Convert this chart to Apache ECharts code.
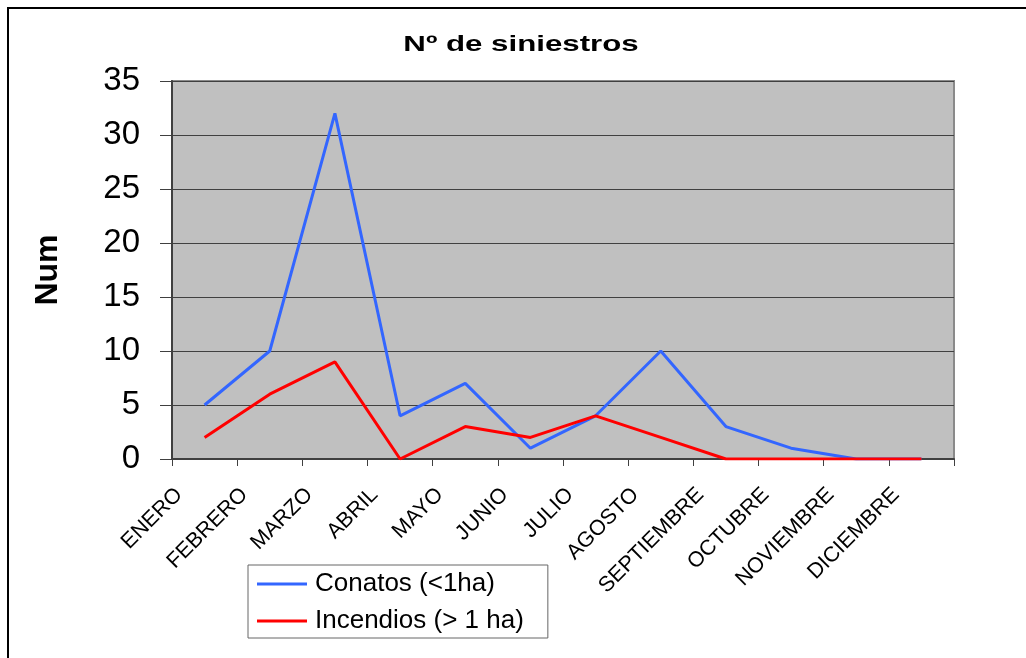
<!DOCTYPE html>
<html>
<head>
<meta charset="utf-8">
<script src="https://cdn.jsdelivr.net/npm/echarts@6/dist/echarts.min.js"></script>
<style>
html,body{margin:0;padding:0;background:#fff;}
#chart{width:1026px;height:658px;}
</style>
</head>
<body>
<div id="chart"></div>
<script>
const categories = ['ENERO','FEBRERO','MARZO','ABRIL','MAYO','JUNIO','JULIO','AGOSTO','SEPTIEMBRE','OCTUBRE','NOVIEMBRE','DICIEMBRE'];
const conatos = [5, 10, 32, 4, 7, 1, 4, 10, 3, 1, 0, 0];
const incendios = [2, 6, 9, 0, 3, 2, 4, 2, 0, 0, 0, 0];
const seriesNames = ['Conatos (<1ha)', 'Incendios (> 1 ha)'];
const chartTitle = 'Nº de siniestros';
const yName = 'Num';
const yTicks = {min: 0, max: 35, interval: 5};

const font = '"Liberation Sans", Arial, sans-serif';
const chart = echarts.init(document.getElementById('chart'), null, {renderer: 'canvas'});
chart.setOption({
  animation: false,
  backgroundColor: '#ffffff',
  textStyle: {fontFamily: font},
  graphic: [{
    type: 'rect', silent: true, z: 0,
    shape: {x: 8, y: 8, width: 1040, height: 680},
    style: {fill: 'none', stroke: '#000', lineWidth: 2}
  }, {
    type: 'text', silent: true, z: 10,
    x: 521, y: 45, scaleX: 1.42, scaleY: 1,
    style: {
      text: chartTitle, x: 0, y: 0, textAlign: 'center', textVerticalAlign: 'middle',
      font: 'bold 22px "Liberation Sans", Arial, sans-serif', fill: '#000'
    }
  }],
  grid: {
    left: 172, top: 81, width: 782, height: 378,
    show: true, backgroundColor: '#C0C0C0', borderColor: '#8a8a8a', borderWidth: 2
  },
  legend: {
    orient: 'vertical', left: 248, top: 565,
    backgroundColor: '#fff', borderColor: '#666', borderWidth: 1,
    padding: [6, 24, 4, 9], itemGap: 11,
    icon: 'rect', itemWidth: 50, itemHeight: 3,
    textStyle: {fontFamily: font, fontSize: 26, color: '#000', padding: [0, 0, 0, 3]},
    data: seriesNames
  },
  xAxis: {
    type: 'category', data: categories, boundaryGap: true,
    axisLine: {lineStyle: {color: '#404040', width: 2}},
    axisTick: {show: true, length: 7, alignWithLabel: false, lineStyle: {color: '#404040', width: 1}},
    axisLabel: {
      interval: 0, rotate: 45, margin: 7, fontFamily: font, fontSize: 21.5, color: '#000',
      padding: [0, 36, 0, 0]
    },
    splitLine: {show: false}
  },
  yAxis: {
    type: 'value', min: yTicks.min, max: yTicks.max, interval: yTicks.interval,
    name: yName, nameLocation: 'middle', nameGap: 108, nameRotate: 90,
    nameTextStyle: {fontFamily: font, fontSize: 32, fontWeight: 'bold', color: '#000'},
    axisLine: {show: true, lineStyle: {color: '#404040', width: 2}},
    axisTick: {show: true, length: 12, lineStyle: {color: '#404040', width: 1}},
    axisLabel: {margin: 32, fontFamily: font, fontSize: 33, color: '#000'},
    splitLine: {show: true, lineStyle: {color: '#404040', width: 1}}
  },
  series: [
    {name: seriesNames[0], type: 'line', data: conatos, symbol: 'none',
     lineStyle: {color: '#3366FF', width: 3}, itemStyle: {color: '#3366FF'}, z: 3},
    {name: seriesNames[1], type: 'line', data: incendios, symbol: 'none',
     lineStyle: {color: '#FF0000', width: 3}, itemStyle: {color: '#FF0000'}, z: 4}
  ]
});
</script>
</body>
</html>
